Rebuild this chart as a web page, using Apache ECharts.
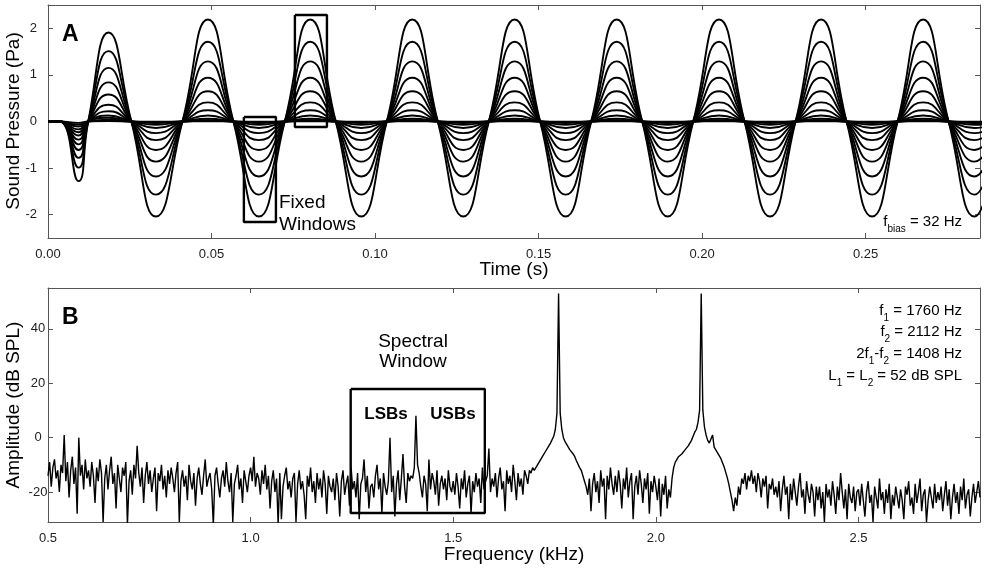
<!DOCTYPE html>
<html>
<head>
<meta charset="utf-8">
<script src="https://cdn.jsdelivr.net/npm/echarts@6/dist/echarts.min.js"></script>
<style>html,body{margin:0;padding:0;background:#fff;}#c{width:986px;height:570px;}</style>
</head>
<body>
<div id="c"></div>
<script>
// ---------- Panel A data ----------
const timeTicks = [0, 0.05, 0.10, 0.15, 0.20, 0.25];
const pressTicks = [-2, -1, 0, 1, 2];
// key times of zero crossings / extrema (s)
const tKeys = [0.0000, 0.0036, 0.0093, 0.0123, 0.0185, 0.0255, 0.0330, 0.0411, 0.0489, 0.0567,
  0.0645, 0.0724, 0.0802, 0.0880, 0.0958, 0.1036, 0.1114, 0.1192, 0.1270, 0.1348,
  0.1427, 0.1505, 0.1583, 0.1661, 0.1739, 0.1817, 0.1895, 0.1973, 0.2052, 0.2130,
  0.2208, 0.2286, 0.2364, 0.2442, 0.2520, 0.2598, 0.2676, 0.2754, 0.2833, 0.2911];
const tKind = ['z','z','onset','z','first','z','neg','z','pos','z',
  'neg','z','pos','z','neg','z','pos','z','neg','z',
  'pos','z','neg','z','pos','z','neg','z','pos','z',
  'neg','z','pos','z','neg','z','pos','z','neg','z'];
// lobe amplitudes per curve (Pa)
const posAmp   = [2.19, 1.71, 1.29, 0.94, 0.65, 0.41, 0.24, 0.13, 0.06, 0.03, 0.015, 0.005];
const negAmp   = [2.04, 1.57, 1.18, 0.86, 0.61, 0.40, 0.25, 0.14, 0.07, 0.035, 0.015, 0.005];
const onsetNeg = [1.28, 0.99, 0.78, 0.61, 0.49, 0.39, 0.30, 0.23, 0.17, 0.11, 0.07, 0.03];
const firstPos = [1.91, 1.51, 1.15, 0.84, 0.58, 0.36, 0.22, 0.13, 0.08, 0.04, 0.02, 0.01];
// fixed windows (time, Pa)
const boxA1 = [[0.0599, 0.097], [0.0697, 0.097], [0.0697, -2.157], [0.0599, -2.157], [0.0599, 0.097]];
const boxA2 = [[0.0755, 2.285], [0.0853, 2.285], [0.0853, -0.118], [0.0755, -0.118], [0.0755, 2.285]];

// ---------- Panel B data ----------
const freqTicks = [0.5, 1.0, 1.5, 2.0, 2.5];
const ampTicks = [-20, 0, 20, 40];
const freqStart = 0.5, freqStep = 0.004; // kHz
const ampDb = [
 -14,-9,-18,-11,-8,-15,-12,-20,-10,-13,1,-16,-9,-22,-12,-7,-17,-11,-28,0,-14,-10,-19,-8,-15,
 -12,-18,-9,-14,-24,-11,-16,-8,-13,-31,-15,-10,-19,-12,-7,-17,-13,-26,-10,-15,-20,-11,-14,-9,-32,
 -16,-12,-21,-10,-15,-3,-13,-18,-11,-24,-14,-9,-17,-12,-20,-15,-11,-27,-13,-16,-10,-19,-14,-22,-12,
 -17,-11,-15,-20,-13,-9,-31,-16,-12,-18,-14,-23,-10,-16,-19,-13,-25,-15,-11,-17,-21,-14,-8,-18,-15,
 -13,-19,-32,-14,-11,-17,-22,-15,-12,-18,-9,-16,-20,-13,-31,-17,-14,-10,-19,-15,-24,-12,-16,-20,-14,
 -11,-16,-7,-18,-13,-15,-21,-12,-17,-10,-19,-14,-26,-16,-12,-20,-15,-32,-13,-30,-18,-14,-11,-19,-16,
 -22,-15,-13,-31,-17,-12,-19,-16,-21,-30,-14,-18,-11,-20,-16,-24,-13,-19,-15,-22,-12,-17,-28,-14,-18,
 -20,-15,-23,-13,-18,-29,-16,-12,-21,-17,-14,-25,-11,-19,-16,-22,-13,-30,-17,-15,-8,-20,-14,-26,-18,
 -17,-22,-14,-10,-19,-15,-28,-13,-18,-21,-16,0,-20,-14,-29,-17,-12,-23,-15,-6,-18,-24,-13,-16,-14,
 -15,-11,8,-10,-13,-18,-22,-14,-17,-27,-8,-19,-13,-16,-21,-12,-25,-17,-14,-19,-15,-23,-12,-18,-20,
 -16,-21,-13,-18,-26,-15,-19,-12,-22,-17,-14,-28,-16,-20,-13,-18,-15,-24,-11,-19,-16,-14,-4,-20,-15,
 -18,-13,-22,-15,-11,-19,-16,-27,-12,-17,-14,-20,-10,-16,-23,-13,-18,-15,-21,-12,-14,-17,-12,-13,-11,
 -12,-11,-10.5,-9,-8.5,-7,-6.5,-5,-4.5,-3,-2,-1.5,0.5,3,9,53,9,3,0,-1.5,-2.5,-3,-4.5,-5,-6,
 -7,-8.5,-9,-11,-12,-14,-16,-18,-21,-15,-27,-17,-13,-20,-16,-24,-12,-18,-15,-30,-14,-19,-11,-17,-21,
 -14,-20,-12,-17,-26,-15,-19,-11,-22,-16,-13,-30,-18,-14,-21,-12,-17,-24,-15,-19,-13,-28,-16,-20,-14,
 -18,-23,-15,-29,-17,-21,-14,-26,-19,-22,-15,-11,-9,-8.5,-7,-7,-6,-5.5,-4.5,-4,-3,-2,-1,0.5,2,
 3,5.5,10,53,10,4,1,-1,-2,-2.5,1,-3.5,-4.5,-5.5,-6.5,-7.5,-9,-10.5,-12.5,-14.5,-17,-20,-23,-27,-22,
 -25,-18,-21,-15,-17,-13,-19,-14,-16,-12,-17,-14,-20,-13,-16,-22,-15,-18,-14,-26,-17,-19,-15,-21,-18,
 -22,-16,-27,-19,-14,-21,-18,-30,-17,-23,-15,-20,-25,-18,-13,-22,-19,-28,-16,-21,-24,-17,-20,-29,-18,
 -23,-18,-26,-20,-31,-17,-22,-19,-25,-16,-21,-28,-18,-23,-13,-20,-26,-19,-30,-17,-22,-24,-18,-27,-20,
 -19,-25,-17,-23,-29,-20,-16,-24,-21,-31,-18,-22,-26,-15,-23,-20,-28,-19,-24,-17,-30,-21,-25,-18,-22,
 -26,-19,-23,-30,-18,-21,-16,-25,-22,-28,-17,-24,-20,-15,-27,-21,-19,-31,-23,-18,-22,-26,-17,-24,-20,
 -23,-18,-27,-21,-16,-25,-19,-30,-22,-17,-24,-20,-28,-18,-23,-15,-26,-21,-19,-29,-22,-17,-24,-20,-16,-22
];
const boxB = [[1.247, 17.9], [1.578, 17.9], [1.578, -27.7], [1.247, -27.7], [1.247, 17.9]];

// ---------- build series ----------
const kindVal = (k, i) => k === 'z' ? 0 : k === 'onset' ? -onsetNeg[i] : k === 'first' ? firstPos[i]
  : k === 'neg' ? -negAmp[i] : posAmp[i];
const seriesA = posAmp.map((_, i) => ({
  type: 'line', xAxisIndex: 0, yAxisIndex: 0, smooth: 0.52, symbol: 'none', silent: true,
  lineStyle: { color: '#000', width: 1.9 },
  data: tKeys.map((t, j) => [t, kindVal(tKind[j], i)])
}));
const spec = ampDb.map((v, i) => [+(freqStart + i * freqStep).toFixed(4), v]);

const axisCol = '#555';
const font = 'Liberation Sans, Arial, sans-serif';
function xAx(grid, min, max, ticks, dec, top) {
  return {
    type: 'value', gridIndex: grid, min: min, max: max, position: top ? 'top' : 'bottom',
    axisLine: { show: true, onZero: false, lineStyle: { color: axisCol, width: 1 } },
    axisTick: { show: true, inside: true, length: 5, customValues: ticks, lineStyle: { color: axisCol } },
    axisLabel: { show: !top, customValues: ticks, margin: 10, fontSize: 13, color: '#222', fontFamily: font,
      formatter: v => v.toFixed(dec) },
    splitLine: { show: false }
  };
}
function yAx(grid, min, max, ticks, right, center) {
  return {
    type: 'value', gridIndex: grid, min: min, max: max, position: right ? 'right' : 'left',
    axisLine: { show: true, onZero: false, lineStyle: { color: axisCol, width: 1 } },
    axisTick: { show: true, inside: true, length: 5, customValues: ticks, lineStyle: { color: axisCol } },
    axisLabel: { show: !right, customValues: ticks, margin: center ? 10 : 11, fontSize: 13, color: '#222', fontFamily: font,
      align: center ? 'center' : 'right', formatter: v => String(v) },
    splitLine: { show: false }
  };
}
const boxSeries = (data, xi, yi) => ({
  type: 'line', xAxisIndex: xi, yAxisIndex: yi, data: data, symbol: 'none', silent: true, z: 5,
  lineStyle: { color: '#000', width: 2.4 }
});
const label = (x, y, text, size, bold, align) => ({
  type: 'text', x: x, y: y, silent: true,
  style: { text: text, fontSize: size, fontWeight: bold ? 'bold' : 'normal', fontFamily: font, fill: '#000',
    align: align || 'left', verticalAlign: 'middle' }
});
const rich = { a: { fontSize: 15, lineHeight: 24, fontFamily: font, color: '#000' },
  s: { fontSize: 10, lineHeight: 10, verticalAlign: 'bottom', fontFamily: font, color: '#000' } };
const rtxt = (x, y, text) => ({ type: 'text', x: x, y: y, silent: true,
  style: { text: text, rich: rich, align: 'right', verticalAlign: 'middle', fontFamily: font, fontSize: 15, fill: '#000' } });

const option = {
  animation: false,
  grid: [{ left: 48, top: 5, width: 932, height: 233 }, { left: 48, top: 288, width: 932, height: 234 }],
  xAxis: [xAx(0, 0, 0.285, timeTicks, 2, false), xAx(0, 0, 0.285, timeTicks, 2, true),
          xAx(1, 0.5, 2.8, freqTicks, 1, false), xAx(1, 0.5, 2.8, freqTicks, 1, true)],
  yAxis: [yAx(0, -2.5, 2.5, pressTicks, false, false), yAx(0, -2.5, 2.5, pressTicks, true, false),
          yAx(1, -31, 55, ampTicks, false, true), yAx(1, -31, 55, ampTicks, true, true)],
  series: seriesA.concat([
    boxSeries(boxA1, 0, 0), boxSeries(boxA2, 0, 0),
    { type: 'line', xAxisIndex: 2, yAxisIndex: 2, data: spec, symbol: 'none', silent: true,
      lineStyle: { color: '#000', width: 1.4 } },
    boxSeries(boxB, 2, 2)
  ]),
  graphic: [
    label(62, 35, 'A', 23, true),
    label(62, 318, 'B', 23, true),
    label(279, 203, 'Fixed', 19),
    label(279, 225, 'Windows', 19),
    { type: 'text', x: 14, y: 121, rotation: Math.PI / 2, silent: true,
      style: { text: 'Sound Pressure (Pa)', fontSize: 19, fontFamily: font, fill: '#000', align: 'center', verticalAlign: 'middle' } },
    { type: 'text', x: 14, y: 405, rotation: Math.PI / 2, silent: true,
      style: { text: 'Amplitude (dB SPL)', fontSize: 19, fontFamily: font, fill: '#000', align: 'center', verticalAlign: 'middle' } },
    label(514, 270, 'Time (s)', 19, false, 'center'),
    label(514, 555, 'Frequency (kHz)', 19, false, 'center'),
    label(413, 342, 'Spectral', 19, false, 'center'),
    label(413, 362, 'Window', 19, false, 'center'),
    label(386, 414, 'LSBs', 17, true, 'center'),
    label(453, 414, 'USBs', 17, true, 'center'),
    rtxt(962, 222, '{a|f}{s|bias}{a| = 32 Hz}'),
    rtxt(962, 311, '{a|f}{s|1}{a| = 1760 Hz}'),
    rtxt(962, 332, '{a|f}{s|2}{a| = 2112 Hz}'),
    rtxt(962, 354, '{a|2f}{s|1}{a|-f}{s|2}{a| = 1408 Hz}'),
    rtxt(962, 376, '{a|L}{s|1}{a| = L}{s|2}{a| = 52 dB SPL}')
  ]
};
const chart = echarts.init(document.getElementById('c'), null, { renderer: 'canvas' });
chart.setOption(option);
</script>
</body>
</html>
